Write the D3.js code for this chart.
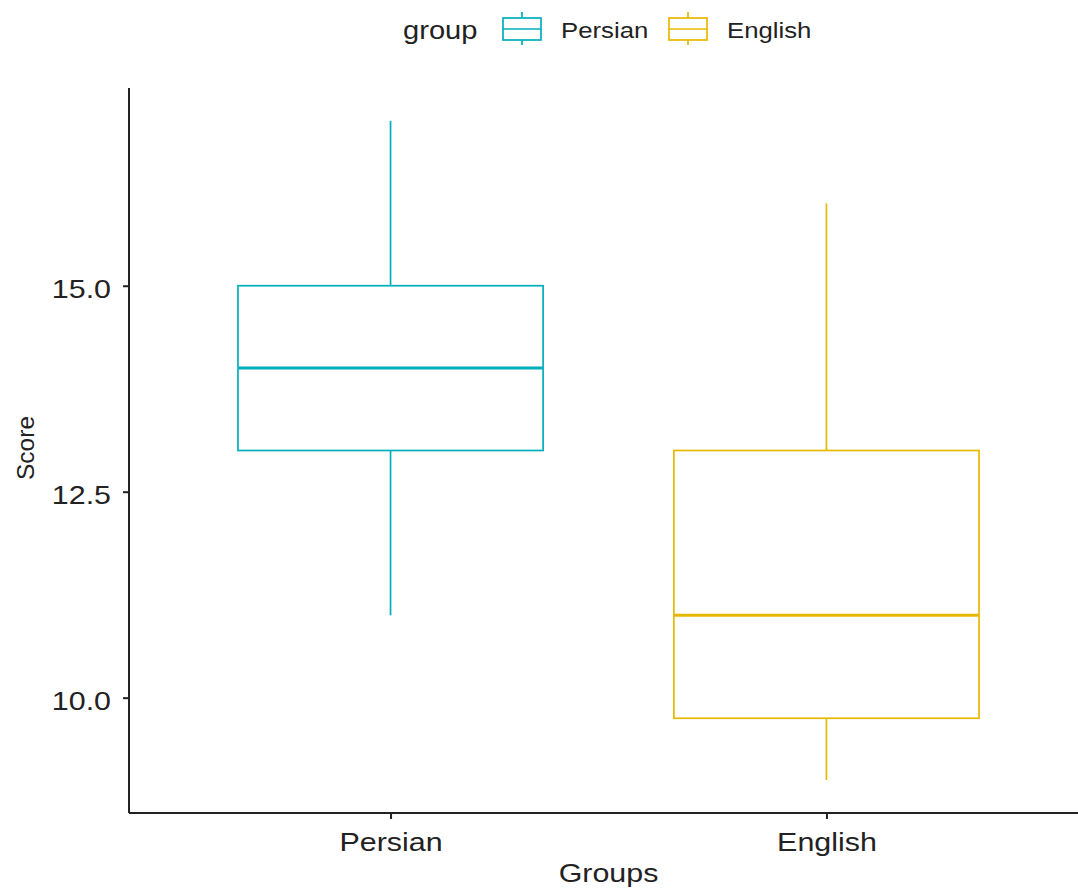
<!DOCTYPE html>
<html>
<head>
<meta charset="utf-8">
<script src="https://cdn.jsdelivr.net/npm/d3@7"></script>
<style>
  html, body { margin: 0; padding: 0; background: #fff; }
  svg { display: block; font-family: "Liberation Sans", Arial, sans-serif; }
</style>
</head>
<body>
<svg id="chart" width="1078" height="889"></svg>
<script>
// Groups and their five-number summaries
const groups = ["Persian", "English"];
const colors = ["#00AFBB", "#E7B800"];
const whiskerLow = [11, 9];
const q1 = [13, 9.75];
const median = [14, 11];
const q3 = [15, 13];
const whiskerHigh = [17, 16];
const yTicks = [10.0, 12.5, 15.0];

const data = groups.map((g, i) => ({
  group: g, color: colors[i],
  lo: whiskerLow[i], q1: q1[i], med: median[i], q3: q3[i], hi: whiskerHigh[i]
}));

const svg = d3.select("#chart");
const panel = { left: 129, right: 1088, top: 88, bottom: 813 };
const ink = "#222";
const wide = 1.17; // horizontal widening of the lettering

// Discrete x scale with 0.6 expansion on each side
const x = d3.scaleLinear().domain([0.4, 2.6]).range([panel.left, panel.right]);
const xPos = g => x(groups.indexOf(g) + 1);
const unit = x(2) - x(1);
const boxW = 0.7 * unit;

const yMin = d3.min(whiskerLow), yMax = d3.max(whiskerHigh);
const pad = (yMax - yMin) * 0.05;
const y = d3.scaleLinear().domain([yMin - pad, yMax + pad]).range([panel.bottom, panel.top]);

// Boxes
const box = svg.append("g");
data.forEach(d => {
  const cx = xPos(d.group);
  const g = box.append("g").attr("stroke", d.color).attr("fill", "#fff");
  g.append("line").attr("x1", cx).attr("x2", cx).attr("y1", y(d.hi)).attr("y2", y(d.q3)).attr("stroke-width", 1.7);
  g.append("line").attr("x1", cx).attr("x2", cx).attr("y1", y(d.q1)).attr("y2", y(d.lo)).attr("stroke-width", 1.7);
  g.append("rect").attr("x", cx - boxW / 2).attr("width", boxW)
    .attr("y", y(d.q3)).attr("height", y(d.q1) - y(d.q3)).attr("stroke-width", 1.7);
  g.append("line").attr("x1", cx - boxW / 2).attr("x2", cx + boxW / 2)
    .attr("y1", y(d.med)).attr("y2", y(d.med)).attr("stroke-width", 3);
});

// Axes (lines and ticks from d3, labels placed below)
const yAxis = svg.append("g").attr("transform", `translate(${panel.left},0)`)
  .call(d3.axisLeft(y).tickValues(yTicks).tickFormat(d3.format(".1f")).tickSize(6));
const xAxis = svg.append("g").attr("transform", `translate(0,${panel.bottom})`)
  .call(d3.axisBottom(x).tickValues([1, 2]).tickFormat(v => groups[v - 1]).tickSize(6));
[yAxis, xAxis].forEach(a => {
  a.select(".domain").attr("stroke", ink).attr("stroke-width", 2);
  a.selectAll(".tick line").attr("stroke", ink).attr("stroke-width", 2);
  a.selectAll(".tick text")
    .attr("fill", ink).attr("dy", null)
    .style("font-size", "26px")
    .style("font-family", "'Liberation Sans', Arial, sans-serif");
});
yAxis.select(".domain").attr("d", `M0,${panel.top}V${panel.bottom}`);
xAxis.select(".domain").attr("d", `M${panel.left},0H${panel.right}`);

yAxis.selectAll(".tick text")
  .attr("x", -18 / wide).attr("y", 11.5)
  .attr("transform", `scale(${wide},1)`);
xAxis.selectAll(".tick text")
  .attr("x", 0).attr("y", 38)
  .attr("transform", `scale(${wide},1)`);

// Axis titles
svg.append("text")
  .attr("transform", `translate(${(panel.left + panel.right) / 2},882) scale(${wide},1)`)
  .attr("text-anchor", "middle").attr("fill", ink).style("font-size", "26px").text("Groups");
svg.append("text")
  .attr("transform", `translate(34,448) rotate(-90)`)
  .attr("text-anchor", "middle").attr("fill", ink).style("font-size", "24.5px").text("Score");

// Legend
const legend = svg.append("g");
legend.append("text").attr("transform", `translate(403,39) scale(1.12,1)`)
  .attr("fill", ink).style("font-size", "26px").text("group");
const keyX = [503, 669];
data.forEach((d, i) => {
  const kx = keyX[i];
  const g = legend.append("g").attr("stroke", d.color).attr("fill", "none").attr("stroke-width", 1.7);
  g.append("rect").attr("x", kx).attr("y", 18).attr("width", 38).attr("height", 22);
  g.append("line").attr("x1", kx).attr("x2", kx + 38).attr("y1", 29).attr("y2", 29);
  g.append("line").attr("x1", kx + 19).attr("x2", kx + 19).attr("y1", 12).attr("y2", 18);
  g.append("line").attr("x1", kx + 19).attr("x2", kx + 19).attr("y1", 40).attr("y2", 45);
  legend.append("text").attr("transform", `translate(${kx + 58},38) scale(1.12,1)`)
    .attr("fill", ink).style("font-size", "23px").text(d.group);
});
</script>
</body>
</html>
